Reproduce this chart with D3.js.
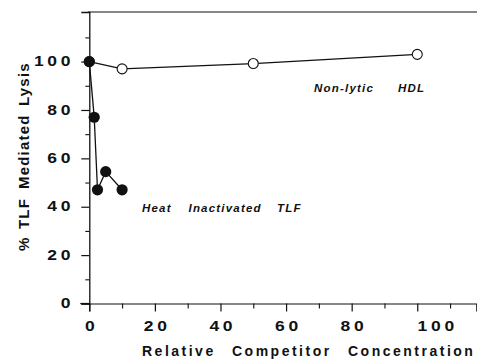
<!DOCTYPE html>
<html>
<head>
<meta charset="utf-8">
<script src="https://cdn.jsdelivr.net/npm/d3@7/dist/d3.min.js"></script>
<style>
  html, body { margin: 0; padding: 0; background: #fff; }
  svg text { font-family: "Liberation Sans", Arial, sans-serif; fill: #111; }
</style>
</head>
<body>
<div id="chart"></div>
<script>
// data
const hdlConc = [0, 10, 50, 100];
const hdlLysis = [100, 97, 99.2, 103];

const tlfConc = [0, 1.5, 2.5, 5, 10];
const tlfLysis = [100, 77, 47, 54.5, 47];

const xTicks = [0, 20, 40, 60, 80, 100];
const xMinor = [10, 30, 50, 70, 90, 110];
const yTicks = [0, 20, 40, 60, 80, 100];
const yMinor = [10, 30, 50, 70, 90, 110];

const xTitleWords = ["Relative", "Competitor", "Concentration"];
const yTitleWords = ["%", "TLF", "Mediated", "Lysis"];
const tlfLabelWords = ["Heat", "Inactivated", "TLF"];
const hdlLabelWords = ["Non-lytic", "HDL"];

const width = 477, height = 360;
const stretch = 1.25;   // tick digits in the figure are wide

const svg = d3.select("#chart").append("svg")
    .attr("width", width)
    .attr("height", height);

// scales
const x = d3.scaleLinear().domain([0, 118]).range([89.3, 476.3]);
const y = d3.scaleLinear().domain([0, 120.5]).range([303.5, 12]);

// top frame line
svg.append("line")
    .attr("x1", x(0) - 1.5).attr("x2", width)
    .attr("y1", y(120.5)).attr("y2", y(120.5))
    .attr("stroke", "#111").attr("stroke-width", 1.2);

// y axis
const yAxis = svg.append("g")
    .attr("transform", "translate(" + x(0) + ",0)")
    .call(d3.axisLeft(y).tickValues(yTicks).tickSize(8).tickPadding(10)
        .tickFormat(d3.format("d")));
yAxis.select(".domain").attr("stroke", "#111").attr("stroke-width", 1.3);
yAxis.selectAll(".tick line").attr("stroke", "#111").attr("stroke-width", 1.2);
yAxis.selectAll(".tick text")
    .style("font-size", "14px").style("font-weight", "bold")
    .style("letter-spacing", "3px")
    .attr("x", -15 / stretch)
    .attr("dy", "0.3em")
    .attr("transform", "scale(" + stretch + ",1)");

svg.append("g")
    .attr("transform", "translate(" + x(0) + ",0)")
    .call(d3.axisLeft(y).tickValues(yMinor).tickSize(4).tickFormat(""))
    .call(g => g.select(".domain").remove())
    .selectAll(".tick line").attr("stroke", "#111").attr("stroke-width", 1.1);

// x axis
const xAxis = svg.append("g")
    .attr("transform", "translate(0," + y(0) + ")")
    .call(d3.axisBottom(x).tickValues(xTicks).tickSize(8).tickPadding(10)
        .tickFormat(d3.format("d")));
xAxis.select(".domain").attr("stroke", "#111").attr("stroke-width", 1.2);
xAxis.selectAll(".tick text")
    .style("font-size", "14px").style("font-weight", "bold")
    .style("letter-spacing", "3px")
    .attr("dx", d => (d === 100 ? 18 : 0) / stretch + 1.5)
    .attr("transform", "scale(" + stretch + ",1)");
xAxis.selectAll(".tick line").attr("stroke", "#111").attr("stroke-width", 1.2);

svg.append("g")
    .attr("transform", "translate(0," + y(0) + ")")
    .call(d3.axisBottom(x).tickValues(xMinor).tickSize(5).tickFormat(""))
    .call(g => g.select(".domain").remove())
    .selectAll(".tick line").attr("stroke", "#111").attr("stroke-width", 1.1);

// small stub of x axis left of zero
svg.append("line")
    .attr("x1", x(0) - 9).attr("x2", x(0))
    .attr("y1", y(0)).attr("y2", y(0))
    .attr("stroke", "#111").attr("stroke-width", 1.2);

// axis titles, word by word as the figure spaces them
const xTitle = svg.append("text")
    .attr("y", 356)
    .style("font-size", "14px").style("font-weight", "bold")
    .style("letter-spacing", "2.5px");
xTitle.selectAll("tspan").data(xTitleWords).enter().append("tspan")
    .attr("x", (d, i) => [142, 232, 348][i])
    .text(d => d);

const yTitle = svg.append("text")
    .attr("transform", "translate(28.5,0) rotate(-90)")
    .style("font-size", "15px").style("font-weight", "bold")
    .style("letter-spacing", "1.2px");
yTitle.selectAll("tspan").data(yTitleWords).enter().append("tspan")
    .attr("x", (d, i) => [-251, -229, -189, -106][i])
    .text(d => d);

// lines
const hdlData = hdlConc.map((c, i) => ({c: c, v: hdlLysis[i]}));
const tlfData = tlfConc.map((c, i) => ({c: c, v: tlfLysis[i]}));

const line = d3.line().x(d => x(d.c)).y(d => y(d.v));

svg.append("path").datum(hdlData)
    .attr("d", line).attr("fill", "none")
    .attr("stroke", "#111").attr("stroke-width", 1.3);

svg.append("path").datum(tlfData)
    .attr("d", line).attr("fill", "none")
    .attr("stroke", "#111").attr("stroke-width", 1.3);

// markers
svg.selectAll(".hdl").data(hdlData).enter().append("circle")
    .attr("class", "hdl")
    .attr("cx", d => x(d.c)).attr("cy", d => y(d.v))
    .attr("r", 5).attr("fill", "#fff")
    .attr("stroke", "#111").attr("stroke-width", 1.1);

svg.selectAll(".tlf").data(tlfData).enter().append("circle")
    .attr("class", "tlf")
    .attr("cx", d => x(d.c)).attr("cy", d => y(d.v))
    .attr("r", 5.6).attr("fill", "#111");

// series labels
const tlfLabel = svg.append("text")
    .attr("y", 212)
    .style("font-size", "11.5px").style("font-weight", "bold").style("font-style", "italic")
    .style("letter-spacing", "1.2px");
tlfLabel.selectAll("tspan").data(tlfLabelWords).enter().append("tspan")
    .attr("x", (d, i) => [142, 188.5, 277][i])
    .text(d => d);

const hdlLabel = svg.append("text")
    .attr("y", 92)
    .style("font-size", "11.5px").style("font-weight", "bold").style("font-style", "italic")
    .style("letter-spacing", "1.2px");
hdlLabel.selectAll("tspan").data(hdlLabelWords).enter().append("tspan")
    .attr("x", (d, i) => [314, 398][i])
    .text(d => d);
</script>
</body>
</html>
